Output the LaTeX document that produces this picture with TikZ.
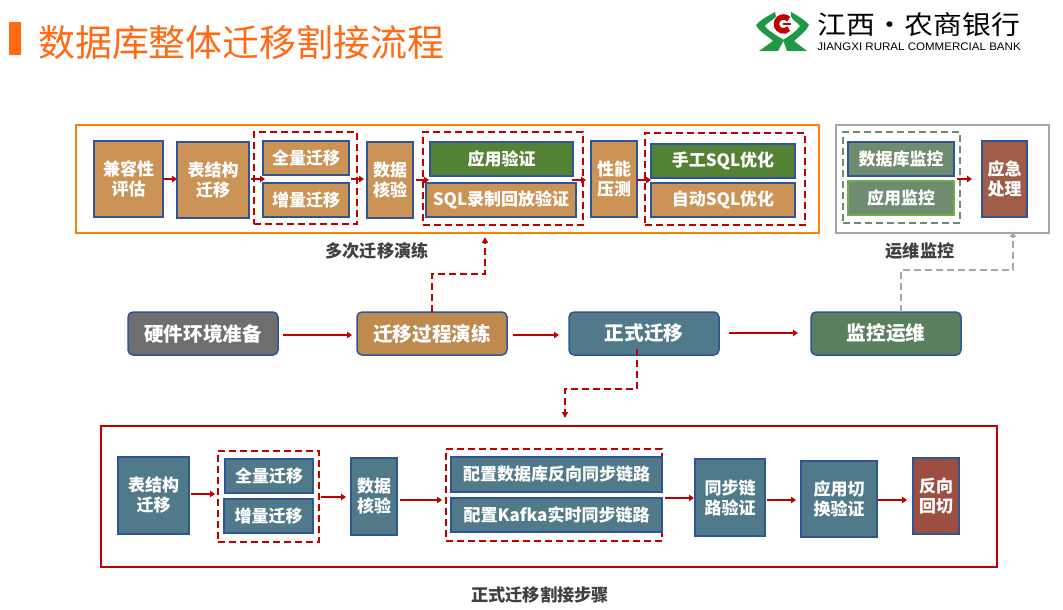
\documentclass[tikz,border=0pt]{standalone}
\usepackage{fontspec}
\setmainfont{Noto Sans CJK SC}
\newfontfamily\enfont{Liberation Sans}
\usetikzlibrary{arrows.meta}
\definecolor{brn}{HTML}{CB9355}
\definecolor{brnm}{HTML}{BE8A50}
\definecolor{bdr}{HTML}{2F5597}
\definecolor{grn}{HTML}{548235}
\definecolor{teal1}{HTML}{507A8A}
\definecolor{gg}{HTML}{6F8C70}
\definecolor{grb}{HTML}{70AD47}
\definecolor{rb}{HTML}{A05C48}
\definecolor{rb2}{HTML}{9C4F40}
\definecolor{dred}{HTML}{C00000}
\definecolor{orng}{HTML}{FF7F00}
\definecolor{ttl}{HTML}{FF6A13}
\definecolor{gry}{HTML}{A6A6A6}
\definecolor{gr2}{HTML}{6E6E6E}
\definecolor{gm}{HTML}{5A7F5F}
\definecolor{lbl}{HTML}{404040}
\definecolor{lgreen}{HTML}{1E9A46}
\tikzset{
  x=1pt,y=-1pt,
  bx/.style={draw=bdr,line width=2pt,inner sep=0pt,outer sep=0pt,align=center,text=white,
    font=\fontsize{17}{20}\selectfont\bfseries},
  mid/.style={bx,rounded corners=5pt,font=\fontsize{19.6}{22}\selectfont\bfseries,line width=1.5pt},
  grp/.style={draw=dred,line width=2pt,dash pattern=on 7pt off 4pt,inner sep=0pt,outer sep=0pt},
  frm/.style={line width=2pt,inner sep=0pt,outer sep=0pt},
  arr/.style={draw=dred,line width=2pt,-{Triangle[length=5pt,width=6.5pt]}},
  darr/.style={draw=dred,line width=2pt,dash pattern=on 7pt off 4pt,-{Triangle[length=6pt,width=6pt]}},
  garr/.style={draw=gry,line width=2pt,dash pattern=on 7pt off 4pt,-{Triangle[length=6pt,width=6pt]}},
  caplbl/.style={text=lbl,font=\fontsize{17.2}{20}\selectfont\bfseries,inner sep=0pt},
}
\newcommand{\bxn}[7][bx]{%
  \node[#1,#7,minimum width={(#5-#3)*1pt},minimum height={(#6-#4)*1pt}] (#2) at ({(#3+#5)/2},{(#4+#6)/2}) {\csname bxtext\endcsname};}
\newcommand{\R}[8][bx]{\def\bxtext{#8}\bxn[#1]{#2}{#3}{#4}{#5}{#6}{#7}}
\begin{document}
\begin{tikzpicture}
\useasboundingbox (0,0) rectangle (1063,610);
\fill[white] (0,0) rectangle (1063,610);
% title
\node[fill=ttl,minimum width=12pt,minimum height=33pt,inner sep=0pt] (bar) at (15,38.5) {};
\node[text=ttl,font=\fontsize{36.9}{40}\selectfont,inner sep=0pt,anchor=west] (title) at (38,42) {数据库整体迁移割接流程};
% logo
\fill[lgreen] (775,12) .. controls (768,16) and (760,20) .. (756,25) .. controls (759,32) and (768,36) .. (773,41) -- (759,51) -- (778,51) -- (784,40) .. controls (778,36) and (769,32) .. (765,26) .. controls (768,22) and (773,20) .. (776,17) -- cycle;
\fill[lgreen] (791,12) .. controls (798,16) and (805,20) .. (809,25) .. controls (806,32) and (799,36) .. (794,41) -- (807,51) -- (787,51) -- (783,40) .. controls (789,36) and (796,32) .. (800,26) .. controls (797,22) and (793,20) .. (791,18) -- cycle;
\fill[white] (783.5,24) circle (10.5);
\draw[dred,line width=5.5pt] (788.7,19.3) arc (-42:-318:7);
\draw[dred,line width=2.5pt] (783,24) -- (791,24);
\node[font=\fontsize{26}{28}\selectfont,text=black,inner sep=0pt] (logotext) at (919,25) {\scalebox{1.11}[1]{江西·农商银行}};
\node[font=\enfont\fontsize{11}{12}\selectfont,text=black,inner sep=0pt] (logoen) at (919,47) {\scalebox{1.05}[1]{JIANGXI RURAL COMMERCIAL BANK}};
% top frames
\R[frm]{topf}{76}{125}{819}{233}{draw=orng}{}
\R[frm]{opsf}{836}{125}{1049}{233}{draw=gry}{}
\R[grp]{d1}{254}{132}{357}{224}{}{}
\R[grp]{d2}{423}{132}{583}{225}{}{}
\R[grp]{d3}{645}{133}{805}{225}{}{}
\R[grp]{d4}{843}{132}{960}{223}{draw=gg}{}
\R{a1}{94}{141}{163}{217}{fill=brn}{兼容性\\评估}
\R{a2}{177}{142}{249}{218}{fill=brn}{表结构\\迁移}
\R{a3}{263}{141}{349}{175}{fill=brn}{全量迁移}
\R{a4}{263}{183}{349}{217}{fill=brn}{增量迁移}
\R{a5}{367}{142}{413}{218}{fill=brn}{数据\\核验}
\R{a6}{430}{142}{573}{176}{fill=grn}{应用验证}
\R{a7}{426}{183}{576}{217}{fill=brn}{SQL录制回放验证}
\R{a8}{591}{141}{637}{217}{fill=brn}{性能\\压测}
\R{a9}{651}{144}{795}{178}{fill=grn}{手工SQL优化}
\R{a10}{651}{183}{795}{217}{fill=brn}{自动SQL优化}
\R{a11}{848}{142}{954}{176}{fill=gg}{数据库监控}
\R{a12}{848}{181}{954}{215}{fill=gg,draw=grb}{应用监控}
\R{a13}{982}{141}{1027}{217}{fill=rb}{应急\\处理}
\coordinate (r1) at (0,179);
\coordinate (r2) at (0,180);
\draw[arr] (a1.east |- r1) -- (a2.west |- r1);
\draw[arr] ([xshift=2pt]a2.east |- r1) -- ([xshift=2pt]a3.west |- r1);
\draw[arr] ([xshift=2pt]a3.east |- r1) -- ([xshift=-3pt]a5.west |- r1);
\draw[arr] ([xshift=3pt]a5.east |- r2) -- ([xshift=-1pt]a6.west |- r2);
\draw[arr] ([xshift=-1pt]a6.east |- r2) -- ([xshift=-5pt]a8.west |- r2);
\draw[arr] (a8.east |- r2) -- (a9.west |- r2);
\draw[arr] ([xshift=-3pt]d4.east |- r1) -- ([xshift=-10pt]a13.west |- r1);
\node[caplbl] (c1) at (377,251) {多次迁移演练};
\node[caplbl] (c2) at (920,251) {运维监控};
% middle
\R[mid]{m1}{128}{312}{278}{355}{fill=gr2}{硬件环境准备}
\R[mid]{m2}{357}{312}{507}{355}{fill=brnm}{迁移过程演练}
\R[mid]{m3}{569}{312}{719}{355}{fill=teal1}{正式迁移}
\R[mid]{m4}{811}{312}{961}{355}{fill=gm}{监控运维}
\coordinate (r3) at (0,335);
\coordinate (r4) at (0,333);
\draw[arr] ([xshift=5pt]m1.east |- r3) -- ([xshift=-5pt]m2.west |- r3);
\draw[arr] ([xshift=6pt]m2.east |- r3) -- ([xshift=-10pt]m3.west |- r3);
\draw[arr] ([xshift=10pt]m3.east |- r4) -- ([xshift=-13pt]m4.west |- r4);
\coordinate (e1) at (485,237);
\coordinate (e2) at (1013,231);
\coordinate (e3) at (565,418);
\coordinate (u1) at (432,274);
\coordinate (u2) at (485,274);
\coordinate (u3) at (901,270);
\coordinate (u4) at (1013,270);
\coordinate (u5) at (637,389);
\coordinate (u6) at (565,389);
\draw[darr] (m2.north -| u1) -- (u1) -- (u2) -- (e1);
\draw[garr] (m4.north -| u3) -- (u3) -- (u4) -- (e2);
\draw[darr] ([yshift=6pt]m3.south -| u5) -- (u5) -- (u6) -- (e3);
% bottom
\R[frm]{botf}{101}{426}{997}{567}{draw=dred}{}
\R[grp]{d5}{218}{451}{319}{542}{}{}
\R[grp]{d6}{446}{449}{662}{541}{}{}
\R{b1}{118}{457}{189}{534}{fill=teal1}{表结构\\迁移}
\R{b2}{225}{459}{313}{493}{fill=teal1}{全量迁移}
\R{b3}{224}{499}{313}{533}{fill=teal1}{增量迁移}
\R{b4}{351}{458}{397}{535}{fill=teal1}{数据\\核验}
\R{b5}{451}{457}{662}{492}{fill=teal1}{配置数据库反向同步链路}
\R{b6}{451}{498}{662}{532}{fill=teal1}{配置Kafka实时同步链路}
\R{b7}{695}{459}{765}{536}{fill=teal1}{同步链\\路验证}
\R{b8}{801}{461}{877}{537}{fill=teal1}{应用切\\换验证}
\R{b9}{913}{458}{959}{534}{fill=rb2}{反向\\回切}
\coordinate (r5) at (0,494);
\coordinate (r6) at (0,497);
\coordinate (r7) at (0,500);
\coordinate (r8) at (0,498);
\draw[arr] ([xshift=2pt]b1.east |- r5) -- ([xshift=-3pt]d5.west |- r5);
\draw[arr] ([xshift=2pt]d5.east |- r6) -- ([xshift=-5pt]b4.west |- r6);
\draw[arr] ([xshift=3pt]b4.east |- r7) -- ([xshift=-4pt]d6.west |- r7);
\draw[arr] ([xshift=3pt]d6.east |- r8) -- ([xshift=-1pt]b7.west |- r8);
\draw[arr] ([xshift=2pt]b7.east |- r7) -- ([xshift=-5pt]b8.west |- r7);
\draw[arr] ([xshift=1pt]b8.east |- r7) -- ([xshift=-6pt]b9.west |- r7);
\node[caplbl] (c3) at (540,595) {正式迁移割接步骤};
\end{tikzpicture}
\end{document}
